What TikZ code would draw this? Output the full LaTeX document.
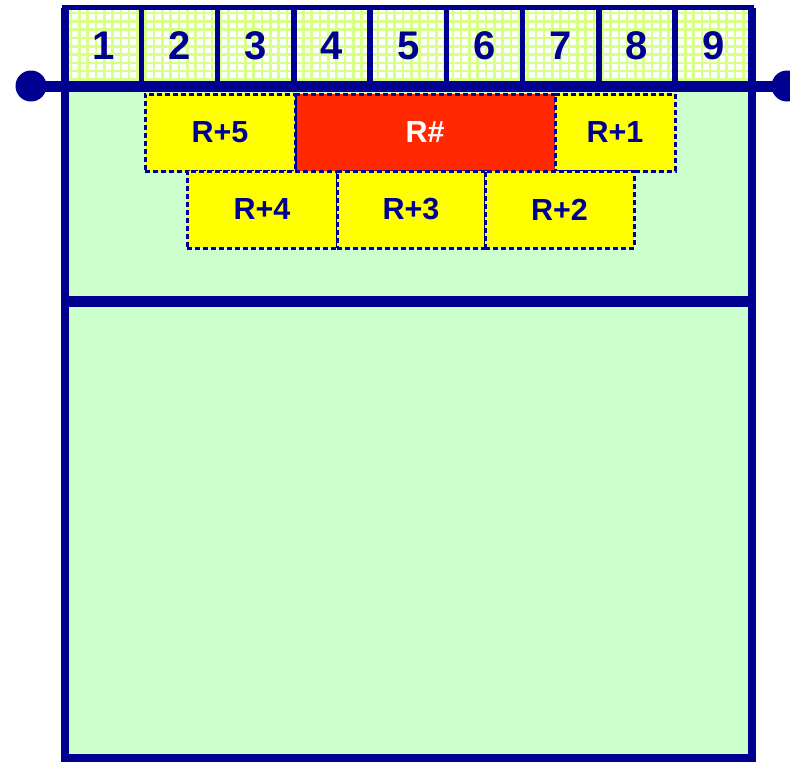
\documentclass[tikz,border=0pt]{standalone}
\usepackage{fontspec}
\setmainfont{Liberation Sans}
\definecolor{navy}{HTML}{000090}
\definecolor{mint}{HTML}{CCFFCC}
\definecolor{gridc}{HTML}{D8FF88}
\definecolor{rred}{HTML}{FF2800}
\definecolor{ryel}{HTML}{FFFF00}
\tikzset{
  slot/.style={text=navy, font=\bfseries\fontsize{40}{48}\selectfont, inner sep=0pt},
  rbox/.style={fill=ryel, draw=navy, line width=3pt, dash pattern=on 5pt off 3pt, inner sep=0pt,
    text=navy, font=\bfseries\fontsize{30.5}{36}\selectfont, minimum height=77pt},
  redbox/.style={rbox, fill=rred, text=white},
  frame/.style={draw=navy},
  dot/.style={circle, fill=navy, inner sep=0pt, minimum size=31pt}
}
\begin{document}
\begin{tikzpicture}[x=1pt,y=-1pt]
\useasboundingbox (0,0) rectangle (790,761);
% main green area
\fill[mint] (65,86) rectangle (751.5,758);
% grid-patterned top strip
\fill[white] (65,7.5) rectangle (751.5,86);
\begin{scope}
\clip (65,7.5) rectangle (751.5,86);
\foreach \i in {0,...,86} {\draw[gridc, line width=2.6pt] (71+\i*8.3,0) -- ++(0,90);}
\foreach \j in {0,...,10} {\draw[gridc, line width=2.6pt] (60,13+\j*8.3) -- ++(700,0);}
\end{scope}
% slot labels
\foreach \i in {1,...,9} {
  \node[slot] (s\i) at ({65+(\i-0.5)*76.28},46) {\i};
}
% top frame and dividers
\draw[frame, line width=5.5pt] (65,7.5) rectangle (751.5,86);
\foreach \i in {1,...,8} {
  \coordinate (dt\i) at ({65+\i*76.28},7.5);
  \coordinate (db\i) at ({65+\i*76.28},86);
  \draw[frame, line width=5.5pt] (dt\i) -- (db\i);
}
% main box borders
\coordinate (tl) at (65,7.5);
\coordinate (tr) at (751.5,7.5);
\coordinate (bl) at (65,757.5);
\coordinate (br) at (751.5,757.5);
\draw[frame, line width=8pt, line join=miter] (tl) -- (bl) -- (br) -- (tr);
\coordinate (ml) at (65,301);
\coordinate (mr) at (751.5,301);
\draw[frame, line width=11pt] (ml) -- (mr);
% rail with end dots
\node[dot] (L) at (31,86) {};
\node[dot] (R) at (787,86) {};
\draw[navy, line width=11pt] (L.center) -- (R.center);
% register boxes
\node[redbox, minimum width=260pt] (rh) at (425,132.5) {R\#};
\node[rbox, minimum width=150pt] (r5) at (220,132.5) {R+5};
\node[rbox, minimum width=120pt] (r1) at (615,132.5) {R+1};
\node[rbox, minimum width=150pt] (r4) at (262,209.5) {R+4};
\node[rbox, minimum width=148pt] (r3) at (411,209.5) {R+3};
\node[rbox, minimum width=149pt] (r2) at (559.5,209.5) {R+2};
\end{tikzpicture}
\end{document}
